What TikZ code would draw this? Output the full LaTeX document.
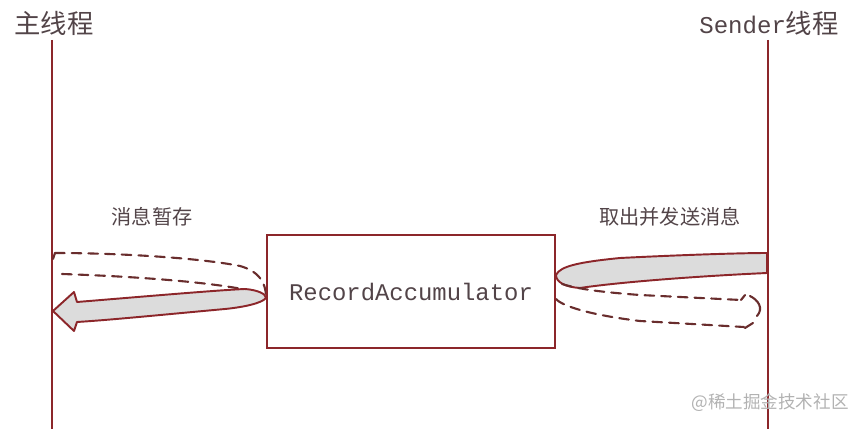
\documentclass[tikz,border=0pt]{standalone}
\usepackage{fontspec}
\setmonofont{Liberation Mono}
\newfontfamily\cjk{Noto Sans CJK SC}
\usepackage{xcolor}
\definecolor{lifered}{RGB}{140, 38, 42}
\definecolor{backbrown}{RGB}{105, 45, 45}
\definecolor{ribbongray}{RGB}{220, 220, 220}
\definecolor{inkgray}{RGB}{82, 68, 72}
\usepackage{tikz}

\begin{document}
\begin{tikzpicture}[x=0.02cm, y=-0.02cm,
    lifeline/.style={line width=1.2pt, lifered},
    front/.style={line width=1.1pt, lifered, fill=ribbongray, line join=round},
    back/.style={line width=1.2pt, backbrown, dash pattern=on 5.5pt off 4pt, line cap=round},
    tick/.style={line width=1.2pt, backbrown, line cap=round},
    title/.style={inkgray, font=\fontsize{15}{18}\selectfont\cjk},
    note/.style={inkgray, font=\fontsize{11.5}{14}\selectfont\cjk}]
    \useasboundingbox (0,0) rectangle (866,429);

    % the two threads
    \node[title] (mainT) at (54,23) {主线程};
    \node[title] (sendT) at (769,23) {{\fontsize{13.7}{16}\selectfont\ttfamily Sender}线程};
    \coordinate (mainTop) at (52,40);
    \coordinate (mainEnd) at (52,429);
    \coordinate (sendTop) at (768,40);
    \coordinate (sendEnd) at (768,429);
    \draw[lifeline] (mainTop) -- (mainEnd);
    \draw[lifeline] (sendTop) -- (sendEnd);

    % left loop: store message
    \draw[back] (55,253) .. controls (120,253) and (200,258) .. (240,266) .. controls (258,271) and (266,282) .. (266,297);
    \draw[tick] (53,259) -- (55,253);
    \draw[back] (62,274) .. controls (150,277) and (210,283) .. (242,289);
    \filldraw[front] (53,311) -- (74,292) -- (77,302) .. controls (150,296) and (220,290) .. (245,289)
        .. controls (258,290) and (266,294) .. (266,298) .. controls (262,303) and (245,307) .. (225,309)
        .. controls (170,314) and (110,320) .. (77,322) -- (74,331) -- cycle;

    % right loop: take out and send
    \filldraw[front] (767,253) -- (767,273) .. controls (700,276) and (620,282) .. (580,288)
        .. controls (565,287) and (556,282) .. (556,275) .. controls (560,266) and (580,262) .. (620,258)
        .. controls (680,255) and (740,253) .. (767,253) -- cycle;
    \draw[back] (562,284) .. controls (578,289) and (600,292) .. (640,295) -- (741,300);
    \draw[back] (556,299) .. controls (562,306) and (590,315) .. (640,321) -- (744,327);
    \draw[tick] (741,300) -- (745,295);
    \draw[tick] (750,296) .. controls (758,300) and (764,308) .. (757,316);
    \draw[tick] (745,328) -- (753,323);

    \node[draw=lifered, line width=1.1pt, minimum width=5.76cm, minimum height=2.26cm, inner sep=0pt,
        text=inkgray, font=\fontsize{13.6}{16}\selectfont\ttfamily] (acc) at (411,291.5) {RecordAccumulator};

    \node[note] (store) at (152,217) {消息暂存};
    \node[note] (send) at (670,217) {取出并发送消息};

    \node[text=gray!60, font=\fontsize{10}{12}\selectfont\cjk] (mark) at (770,403) {@稀土掘金技术社区};
\end{tikzpicture}
\end{document}
